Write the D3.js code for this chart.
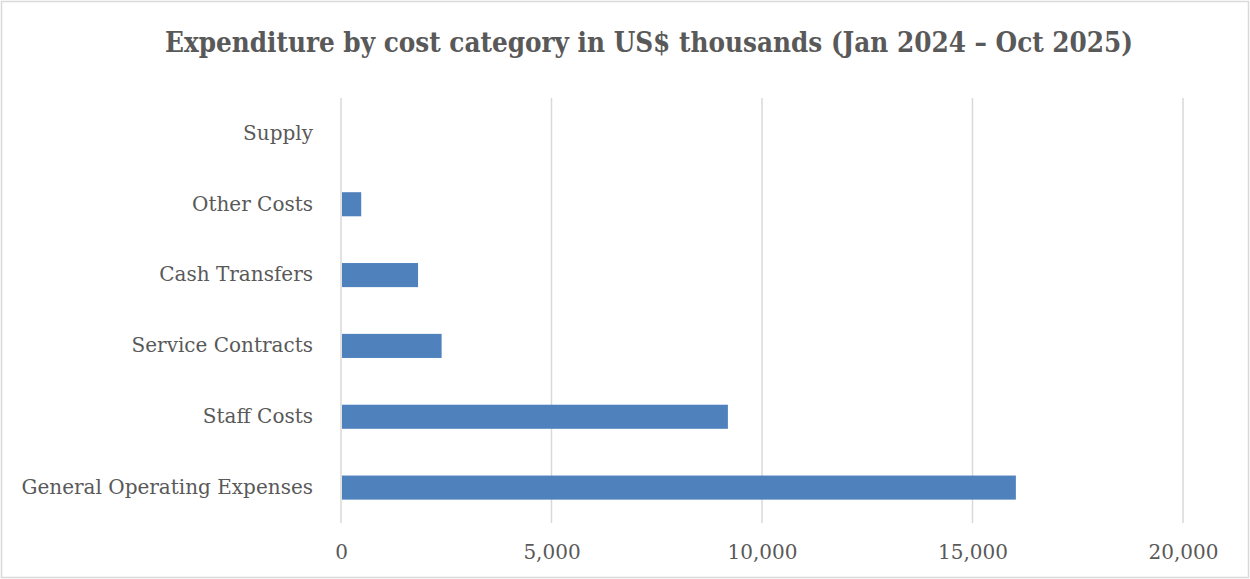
<!DOCTYPE html>
<html>
<head>
<meta charset="utf-8">
<script src="https://cdn.jsdelivr.net/npm/d3@7"></script>
<style>
  body { margin: 0; background: #fff; }
  svg text { font-family: "DejaVu Serif", "Liberation Serif", serif; fill: #595959; }
</style>
</head>
<body>
<div id="chart"></div>
<script>
var categories = ['General Operating Expenses', 'Staff Costs', 'Service Contracts', 'Cash Transfers', 'Other Costs', 'Supply']
	, values = [16030, 9190, 2390, 1830, 480, 0]
	, ticks = [0, 5000, 10000, 15000, 20000]
	, title = 'Expenditure by cost category in US$ thousands (Jan 2024 \u2013 Oct 2025)'
	;

var W = 1250, H = 579
	, m = {top: 98, left: 341, right: 67, bottom: 56}
	, iw = W - m.left - m.right
	, ih = H - m.top - m.bottom
	;

var svg = d3.select('#chart').append('svg').attr('width', W).attr('height', H);

// chart border
svg.append('rect').attr('x', 1.5).attr('y', 1.5).attr('width', W - 3).attr('height', H - 3)
	.attr('fill', '#fff').attr('stroke', '#d9d9d9').attr('stroke-width', 1.5);

svg.append('text').attr('x', 649).attr('y', 52).attr('text-anchor', 'middle')
	.attr('font-size', 27).attr('font-weight', 'bold')
	.attr('textLength', 968).attr('lengthAdjust', 'spacingAndGlyphs')
	.text(title);

var x = d3.scaleLinear().domain([0, 20000]).range([0, iw]);
var y = d3.scaleBand().domain(categories.slice().reverse()).range([0, ih]).paddingInner(0.66).paddingOuter(0.33);

var g = svg.append('g').attr('transform', 'translate(' + m.left + ',' + m.top + ')');

// gridlines
g.selectAll('line.grid').data(ticks).enter().append('line').attr('class', 'grid')
	.attr('x1', function(d){ return x(d); }).attr('x2', function(d){ return x(d); })
	.attr('y1', 0).attr('y2', ih)
	.attr('stroke', '#d9d9d9').attr('stroke-width', 1.5);

g.selectAll('rect.bar').data(categories).enter().append('rect').attr('class', 'bar')
	.attr('x', x(0) + 1)
	.attr('y', function(d){ return y(d); })
	.attr('width', function(d, i){ return Math.max(0, x(values[i]) - x(0) - 1); })
	.attr('height', y.bandwidth())
	.attr('fill', '#4f81bd');

// category labels
var yAxis = d3.axisLeft(y).tickSize(0).tickPadding(28);
g.append('g').call(yAxis).call(function(s){
	s.select('.domain').remove();
	s.selectAll('text').attr('font-size', 20).style('font-family', null).attr('fill', null);
});

var xAxis = d3.axisBottom(x).tickValues(ticks).tickSize(0).tickPadding(22).tickFormat(d3.format(','));
g.append('g').attr('transform', 'translate(0,' + ih + ')').call(xAxis).call(function(s){
	s.select('.domain').remove();
	s.selectAll('text').attr('font-size', 20).style('font-family', null).attr('fill', null);
});

g.selectAll('.tick text').attr('font-family', null);
svg.selectAll('g text').attr('fill', '#595959').attr('font-family', '"DejaVu Serif", "Liberation Serif", serif');
</script>
</body>
</html>
